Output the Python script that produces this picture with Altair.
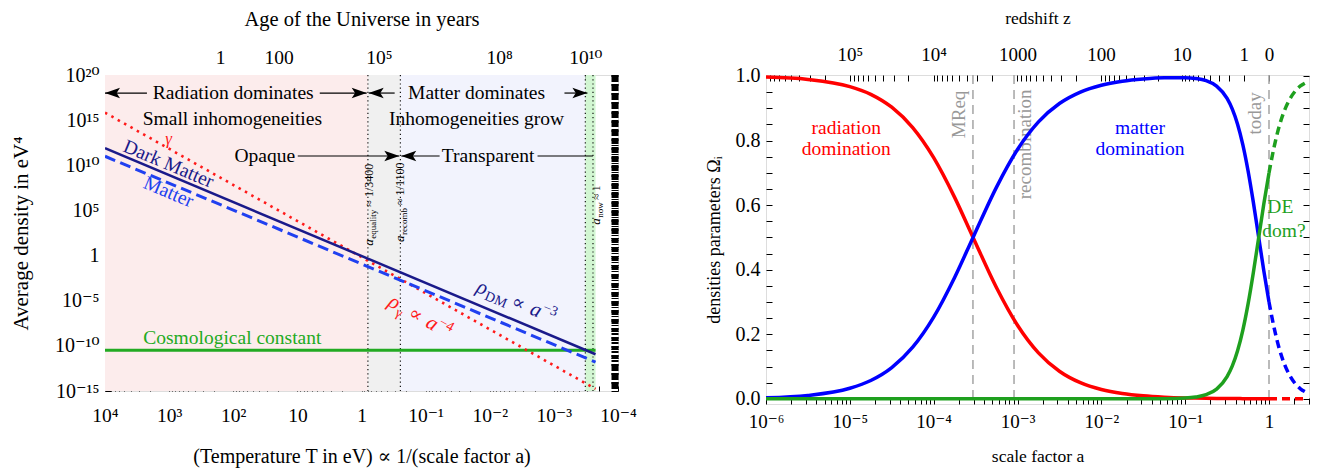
import math
import altair as alt
import pandas as pd

FONT = "Liberation Serif, DejaVu Serif"

# =========================== LEFT PANEL (log10 values) ===========================
line_names = ["photons", "dark matter", "matter", "cosmological constant"]
line_logT_start = [4.0, 4.0, 4.0, 4.0]
line_logT_end = [-3.65, -3.65, -3.65, -3.65]
line_logrho_start = [15.83, 11.89, 11.0, -10.49]
line_logrho_end = [-14.77, -10.93, -11.8, -10.49]

era_names = ["radiation era", "equality-recombination", "matter era", "today"]
era_logT_start = [4.0, -0.10, -0.606, -3.49]
era_logT_end = [-0.10, -0.606, -3.49, -3.65]

marker_logT = [-0.10, -0.606, -3.49, -3.61]

age_labels = ["1", "100", "10⁵", "10⁸", "10¹⁰"]
age_logT = [2.204, 1.293, -0.273, -2.145, -3.49]

T_label_exp = [4, 3, 2, 1, 0, -1, -2, -3, -4]
T_labels = ["10⁴", "10³", "10²", "10", "1", "10⁻¹", "10⁻²", "10⁻³", "10⁻⁴"]

rho_label_exp = [20, 15, 10, 5, 0, -5, -10, -15]
rho_labels = ["10²⁰", "10¹⁵", "10¹⁰", "10⁵", "1", "10⁻⁵", "10⁻¹⁰", "10⁻¹⁵"]

seg_logT_start = [4.0, 0.651, -0.112, -3.165, 0.994, -0.62, -2.745]
seg_logT_end = [3.346, -0.081, -0.517, -3.523, -0.59, -1.218, -3.609]
seg_logrho = [18.0, 18.0, 18.0, 18.0, 11.03, 11.03, 11.03]

head_logT = [4.0, -0.081, -0.112, -3.523, -0.59, -0.62]
head_logrho = [18.0, 18.0, 18.0, 18.0, 11.03, 11.03]
head_dir = ["left", "right", "left", "right", "right", "left"]

note_text = ["Radiation dominates", "Matter dominates", "Small inhomogeneities",
             "Inhomogeneities grow", "Opaque", "Transparent"]
note_logT = [2.0, -1.794, 2.014, -1.794, 1.508, -1.974]
note_logrho = [18.0, 18.0, 15.13, 15.13, 11.03, 11.03]

# =========================== RIGHT PANEL ===========================
lga_past = [-6.0, -5.5, -5.0, -4.75, -4.5, -4.25, -4.0, -3.75, -3.53, -3.25, -3.0, -2.75, -2.5,
            -2.25, -2.0, -1.75, -1.5, -1.25, -1.0, -0.875, -0.75, -0.625, -0.5, -0.4375, -0.375,
            -0.3125, -0.25, -0.1875, -0.125, -0.0625, 0.0]
omega_r_past = [0.9966, 0.9894, 0.9672, 0.9432, 0.9032, 0.8400, 0.7469, 0.6240, 0.5000, 0.3442,
                0.2279, 0.1423, 0.0854, 0.0499, 0.0287, 0.0163, 0.0092, 0.0052, 0.0029, 0.0022,
                0.0016, 0.0012, 0.0009, 0.0008, 0.0007, 0.0006, 0.0005, 0.0004, 0.0004, 0.0003, 0.0003]
omega_m_past = [0.0034, 0.0106, 0.0328, 0.0568, 0.0968, 0.1600, 0.2531, 0.3760, 0.5000, 0.6558,
                0.7721, 0.8577, 0.9146, 0.9501, 0.9713, 0.9837, 0.9907, 0.9944, 0.9947, 0.9923,
                0.9854, 0.9687, 0.9305, 0.8973, 0.8506, 0.7873, 0.7065, 0.6100, 0.5039, 0.3975, 0.3000]
omega_l_past = [0.0, 0.0, 0.0, 0.0, 0.0, 0.0, 0.0, 0.0, 0.0, 0.0,
                0.0, 0.0, 0.0, 0.0, 0.0, 0.0, 0.0001, 0.0004, 0.0023, 0.0055,
                0.0129, 0.0301, 0.0687, 0.1019, 0.1489, 0.2122, 0.2932, 0.3898, 0.4959, 0.6024, 0.6997]

lga_future = [0.0, 0.0625, 0.125, 0.1875, 0.25, 0.3125, 0.375, 0.43]
omega_r_future = [0.0003, 0.0002, 0.0001, 0.0001, 0.0, 0.0, 0.0, 0.0]
omega_m_future = [0.300, 0.218, 0.153, 0.105, 0.071, 0.047, 0.031, 0.022]
omega_l_future = [0.700, 0.782, 0.847, 0.895, 0.929, 0.953, 0.969, 0.978]

a_label_exp = [-6, -5, -4, -3, -2, -1, 0]
a_labels = ["10⁻⁶", "10⁻⁵", "10⁻⁴", "10⁻³", "10⁻²", "10⁻¹", "1"]
z_label_values = [100000, 10000, 1000, 100, 10, 1, 0]
z_labels = ["10⁵", "10⁴", "1000", "100", "10", "1", "0"]

event_names = ["MReq", "recombination", "today"]
event_a = [1 / 3400, 1 / 1100, 1.0]
event_label_lga = [-3.696, -2.915, -0.168]
event_label_omega = [0.881, 0.788, 0.884]

rad_note_text = ["radiation", "domination"]
rad_note_lga = [-5.043, -5.043]
rad_note_omega = [0.840, 0.773]
mat_note_text = ["matter", "domination"]
mat_note_lga = [-1.539, -1.539]
mat_note_omega = [0.840, 0.773]
de_note_text = ["DE", "dom?"]
de_note_lga = [0.135, 0.178]
de_note_omega = [0.593, 0.520]

# =========================== helpers ===========================
LW, LH = 513, 316
RW, RH = 543, 329

XS1 = alt.Scale(type="log", domain=[1e-4, 1e4], reverse=True, nice=False)
YS1 = alt.Scale(type="log", domain=[1e-15, 1e20], nice=False)
XS2 = alt.Scale(type="log", domain=[1e-6, 3], nice=False)
YS2 = alt.Scale(domain=[-0.016, 1.003], nice=False, zero=False)


def code_expr(codes, labels):
    c = "[" + ",".join(str(int(v)) for v in codes) + "]"
    lab = "[" + ",".join("'" + s + "'" for s in labels) + "]"
    k = "round(log(datum.value)/LN10*1000)"
    return f"indexof({c},{k})>=0 ? {lab}[indexof({c},{k})] : ''"


COMMON = dict(domain=False, grid=False, labelFont=FONT, labelColor="black", tickColor="black",
              titleFont=FONT, titleColor="black", titleFontWeight="normal",
              labelOverlap=False, labelFlush=False, labelBound=False)


def lx(axis=None, field="T"):
    return alt.X(f"{field}:Q", scale=XS1, axis=axis)


def ly(axis=None, field="rho"):
    return alt.Y(f"{field}:Q", scale=YS1, axis=axis)


def rx(axis=None, field="a"):
    return alt.X(f"{field}:Q", scale=XS2, axis=axis)


def ry(axis=None, field="omega"):
    return alt.Y(f"{field}:Q", scale=YS2, axis=axis)


def one(T, rho, t):
    return pd.DataFrame({"T": [10 ** T], "rho": [10 ** rho], "t": [t]})


def pieces(lgT, lgrho, parts, angle, color):
    out = []
    for txt, size, style, dx, dy in parts:
        out.append(alt.Chart(one(lgT, lgrho, txt)).mark_text(
            font=FONT, fontSize=size, fontStyle=style, color=color, align="left",
            baseline="alphabetic", angle=angle, dx=dx, dy=dy
        ).encode(x=lx(), y=ly(), text="t:N"))
    return out


# =========================== LEFT PANEL ===========================
T_ticks = [k * 10 ** e for e in range(-4, 4) for k in range(1, 10)] + [1e4]
rho_ticks = [10.0 ** e for e in range(-15, 21)]
rho_dense = [k * 10.0 ** e for e in range(-15, 20) for k in range(1, 10)] + [1e20]
age_T = [10 ** v for v in age_logT]

ax_bottom_L = alt.Axis(orient="bottom", values=T_ticks,
                       labelExpr=code_expr([e * 1000 for e in T_label_exp], T_labels),
                       tickSize=5, offset=-5, labelPadding=15, labelFontSize=19.5,
                       title="(Temperature T in eV) ∝ 1/(scale factor a)", titleFontSize=20,
                       titlePadding=22, **COMMON)
ax_left_L = alt.Axis(orient="left", values=rho_ticks,
                     labelExpr=code_expr([e * 1000 for e in rho_label_exp], rho_labels),
                     tickSize=6, offset=-6, labelPadding=6, labelFontSize=20,
                     title="Average density in eV⁴", titleFontSize=21, titlePadding=23, **COMMON)
ax_top_L = alt.Axis(orient="top", values=age_T,
                    labelExpr=code_expr([round(v * 1000) for v in age_logT], age_labels),
                    tickSize=5, offset=-5, labelPadding=8, labelFontSize=19.5,
                    title="Age of the Universe in years", titleFontSize=20.5, titlePadding=18,
                    **COMMON)
ax_right_L = alt.Axis(orient="right", values=rho_dense, labels=False, tickSize=7, offset=-7,
                      tickWidth=1, title=None, **COMMON)

era_df = pd.DataFrame({"era": era_names,
                       "T1": [10 ** v for v in era_logT_start],
                       "T2": [10 ** v for v in era_logT_end]})
bg = alt.Chart(era_df).mark_rect().encode(
    x=lx(field="T1"), x2="T2", y=alt.value(0), y2=alt.value(LH),
    color=alt.Color("era:N", legend=None,
                    scale=alt.Scale(domain=era_names,
                                    range=["#fcecec", "#f0f0f0", "#f2f3fd", "#d2f6d2"])))

marker_df = pd.DataFrame({"T": [10 ** v for v in marker_logT]})
markers = alt.Chart(marker_df).mark_rule(color="black", strokeDash=[1.2, 3], strokeWidth=1.1).encode(
    x=lx(), y=alt.value(0), y2=alt.value(LH))


def line_df(i):
    return pd.DataFrame({"T": [10 ** line_logT_start[i], 10 ** line_logT_end[i]],
                         "rho": [10 ** line_logrho_start[i], 10 ** line_logrho_end[i]]})


lam_line = alt.Chart(line_df(3)).mark_line(color="#22aa22", strokeWidth=3, clip=True).encode(x=lx(), y=ly())
gam_line = alt.Chart(line_df(0)).mark_line(color="#ff1a1a", strokeWidth=2.6, strokeDash=[2.5, 4.8],
                                           clip=True).encode(x=lx(), y=ly())
mat_line = alt.Chart(line_df(2)).mark_line(color="#2040f0", strokeWidth=3, strokeDash=[11, 5.5],
                                           clip=True).encode(x=lx(ax_top_L), y=ly(ax_right_L))
dm_line = alt.Chart(line_df(1)).mark_line(color="#1a1a8a", strokeWidth=2.5, clip=True).encode(
    x=lx(ax_bottom_L), y=ly(ax_left_L))

seg_df = pd.DataFrame({"T1": [10 ** v for v in seg_logT_start], "T2": [10 ** v for v in seg_logT_end],
                       "rho": [10 ** v for v in seg_logrho]})
segs = alt.Chart(seg_df).mark_rule(color="black", strokeWidth=1.2).encode(
    x=lx(field="T1"), x2="T2", y=ly())

ARROW_R = "M0,0 L-2,-0.7 L-1.55,0 L-2,0.7 Z"
ARROW_L = "M0,0 L2,-0.7 L1.55,0 L2,0.7 Z"
head_df = pd.DataFrame({"T": [10 ** v for v in head_logT], "rho": [10 ** v for v in head_logrho],
                        "dir": head_dir})
heads = alt.Chart(head_df).mark_point(filled=True, size=225, opacity=1, color="black", strokeWidth=0).encode(
    x=lx(), y=ly(),
    shape=alt.Shape("dir:N", legend=None, scale=alt.Scale(domain=["left", "right"], range=[ARROW_L, ARROW_R])))

note_df = pd.DataFrame({"T": [10 ** v for v in note_logT], "rho": [10 ** v for v in note_logrho],
                        "t": note_text})
notes = alt.Chart(note_df).mark_text(font=FONT, fontSize=19.5, color="black", align="center",
                                     baseline="middle").encode(x=lx(), y=ly(), text="t:N")

gamma_lbl = alt.Chart(one(3.008, 12.91, "γ")).mark_text(
    font=FONT, fontSize=17, fontStyle="italic", color="#ff1a1a", baseline="middle").encode(x=lx(), y=ly(), text="t:N")
dm_lbl = alt.Chart(one(3.008, 10.14, "Dark Matter")).mark_text(
    font=FONT, fontSize=19.5, color="#1a1a8a", baseline="middle", angle=22.8).encode(x=lx(), y=ly(), text="t:N")
mat_lbl = alt.Chart(one(3.008, 7.04, "Matter")).mark_text(
    font=FONT, fontSize=19.5, color="#2040f0", baseline="middle", angle=22.8).encode(x=lx(), y=ly(), text="t:N")
cc_lbl = alt.Chart(one(2.014, -9.09, "Cosmological constant")).mark_text(
    font=FONT, fontSize=19.5, color="#22aa22", baseline="middle").encode(x=lx(), y=ly(), text="t:N")

rho_dm_parts = [("ρ", 21, "italic", -44, 7), ("DM", 14, "normal", -33, 11), ("∝", 19, "normal", -6, 7),
                ("a", 21, "italic", 14, 7), ("−3", 14, "normal", 25, -1)]
rho_g_parts = [("ρ", 21, "italic", -38, 7), ("γ", 14, "normal", -27, 12), ("∝", 19, "normal", -15, 7),
               ("a", 21, "italic", 5, 7), ("−4", 14, "normal", 16, -1)]
aeq_parts = [("a", 13, "italic", 0, 0), ("equality", 9, "normal", 7, 3), ("≈ 1/3400", 12, "normal", 39, 0)]
arec_parts = [("a", 13, "italic", 0, 0), ("recomb", 9, "normal", 7, 3), ("≈ 1/1100", 12, "normal", 37, 0)]
anow_parts = [("a", 13, "italic", 0, 0), ("now", 9, "normal", 7, 3), ("≈ 1", 11, "normal", 25, 0)]

math_layers = (pieces(-2.449, -5.14, rho_dm_parts, 22.8, "#1a1a8a")
               + pieces(-0.969, -6.88, rho_g_parts, 29.4, "#ff1a1a")
               + pieces(-0.174, 1.1, aeq_parts, 270, "black")
               + pieces(-0.657, 1.5, arec_parts, 270, "black")
               + pieces(-3.726, 3.4, anow_parts, 270, "black"))

left = alt.layer(bg, markers, lam_line, gam_line, mat_line, dm_line, segs, heads, notes,
                 gamma_lbl, dm_lbl, mat_lbl, cc_lbl, *math_layers).resolve_axis(
    x="independent", y="independent").properties(width=LW, height=LH)

# =========================== RIGHT PANEL ===========================
a_ticks = [k * 10 ** e for e in range(-6, 0) for k in range(1, 10)] + [1, 2, 3]
z_ticks = [k * 10 ** e for e in range(0, 6) for k in range(1, 10)] + [0]
za_ticks = [1 / (1 + z) for z in z_ticks]
z_codes = [round(math.log10(1 / (1 + z)) * 1000) for z in z_label_values]
om_ticks = [round(i * 0.05, 2) for i in range(21)]
om_expr = "round(datum.value*100) % 20 == 0 ? format(datum.value, '.1f') : ''"

ax_bottom_R = alt.Axis(orient="bottom", values=a_ticks,
                       labelExpr=code_expr([e * 1000 for e in a_label_exp], a_labels),
                       tickSize=6, offset=-6, labelPadding=8, labelFontSize=19,
                       title="scale factor a", titleFontSize=17.5, titlePadding=16, **COMMON)
ax_top_R = alt.Axis(orient="top", values=za_ticks, labelExpr=code_expr(z_codes, z_labels),
                    tickSize=6, offset=-6, labelPadding=11, labelFontSize=19,
                    title="redshift z", titleFontSize=17.5, titlePadding=18, **COMMON)
ax_left_R = alt.Axis(orient="left", values=om_ticks, labelExpr=om_expr, tickSize=6, offset=-6,
                     labelPadding=6, labelFontSize=20, title="densities parameters  Ωᵢ",
                     titleFontSize=18, titlePadding=12, **COMMON)
ax_right_R = alt.Axis(orient="right", values=om_ticks, labels=False, tickSize=6, offset=-6,
                      title=None, **COMMON)

ev_df = pd.DataFrame({"a": event_a})
ev_rules = alt.Chart(ev_df).mark_rule(color="#aaaaaa", strokeDash=[9, 6], strokeWidth=1.6).encode(
    x=rx(), y=alt.value(0), y2=alt.value(RH))
ev_lbl_df = pd.DataFrame({"a": [10 ** v for v in event_label_lga], "omega": event_label_omega,
                          "t": event_names})
ev_lbls = alt.Chart(ev_lbl_df).mark_text(font=FONT, fontSize=19, color="#999999", angle=270,
                                          align="center", baseline="middle").encode(
    x=rx(), y=ry(), text="t:N")


def curve(lga, om):
    return pd.DataFrame({"a": [10 ** v for v in lga], "omega": om})


RED, BLUE, GREEN = "#ff0000", "#0000ff", "#1ea01e"

red_p = alt.Chart(curve(lga_past, omega_r_past)).mark_line(
    color=RED, strokeWidth=3.5, interpolate="monotone", clip=True).encode(
    x=rx(ax_bottom_R), y=ry(ax_left_R))
blue_p = alt.Chart(curve(lga_past, omega_m_past)).mark_line(
    color=BLUE, strokeWidth=3.5, interpolate="monotone", clip=True).encode(
    x=rx(ax_top_R), y=ry(ax_right_R))
green_p = alt.Chart(curve(lga_past, omega_l_past)).mark_line(
    color=GREEN, strokeWidth=3.5, interpolate="monotone", clip=True).encode(x=rx(), y=ry())
red_f = alt.Chart(curve(lga_future, omega_r_future)).mark_line(
    color=RED, strokeWidth=3.5, strokeDash=[8, 5], interpolate="monotone", clip=True).encode(x=rx(), y=ry())
blue_f = alt.Chart(curve(lga_future, omega_m_future)).mark_line(
    color=BLUE, strokeWidth=3.5, strokeDash=[8, 5], interpolate="monotone", clip=True).encode(x=rx(), y=ry())
green_f = alt.Chart(curve(lga_future, omega_l_future)).mark_line(
    color=GREEN, strokeWidth=3.5, strokeDash=[8, 5], interpolate="monotone", clip=True).encode(x=rx(), y=ry())


def note_layer(texts, lgas, oms, color):
    df = pd.DataFrame({"a": [10 ** v for v in lgas], "omega": oms, "t": texts})
    return alt.Chart(df).mark_text(font=FONT, fontSize=19.5, align="center", baseline="middle",
                                   color=color).encode(x=rx(), y=ry(), text="t:N")


rad_notes = note_layer(rad_note_text, rad_note_lga, rad_note_omega, RED)
mat_notes = note_layer(mat_note_text, mat_note_lga, mat_note_omega, BLUE)
de_notes = note_layer(de_note_text, de_note_lga, de_note_omega, GREEN)

right = alt.layer(ev_rules, ev_lbls, red_p, blue_p, green_p, red_f, blue_f, green_f,
                  rad_notes, mat_notes, de_notes).resolve_axis(
    x="independent", y="independent").properties(width=RW, height=RH)

chart = alt.hconcat(left, right, spacing=148, bounds="flush").configure_view(
    stroke="black", strokeWidth=1.2).configure(background="white").properties(
    padding={"left": 1, "top": 0, "right": 5, "bottom": 5})

chart.save("out.html", embed_options={"renderer": "svg", "actions": False})
